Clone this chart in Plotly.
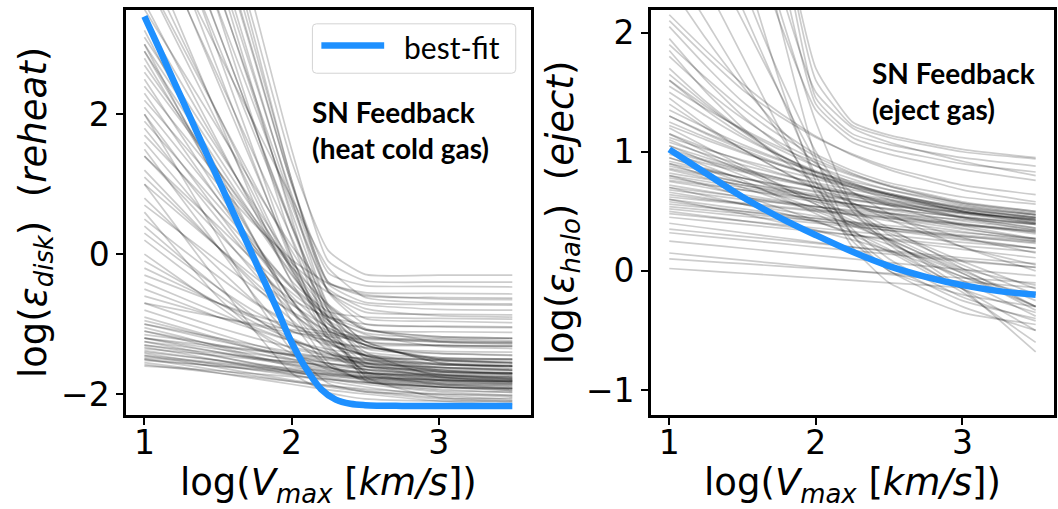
import plotly.graph_objects as go

# Sample nodes in log(Vmax) shared by every posterior curve
vmax_nodes = [1.0, 1.25, 1.5, 1.75, 2.0, 2.25, 2.5, 3.0, 3.5]

# Posterior draws of log(eps_disk) (reheating efficiency)
disk_samples = [
    [8.9, 7.0, 5.1, 3.23, 1.33, 0.05, -0.29, -0.30, -0.30],
    [8.0, 6.26, 4.51, 2.76, 1.01, -0.27, -0.45, -0.46, -0.47],
    [7.36, 5.74, 4.11, 2.49, 0.86, -0.43, -0.69, -0.72, -0.73],
    [6.76, 5.26, 3.76, 2.26, 0.76, -0.53, -0.92, -0.96, -0.98],
    [6.71, 5.09, 3.46, 1.84, 0.21, -1.0, -1.19, -1.22, -1.24],
    [5.94, 4.56, 3.19, 1.81, 0.44, -0.81, -1.35, -1.42, -1.44],
    [5.4, 4.0, 2.64, 1.26, -0.11, -1.24, -1.55, -1.62, -1.65],
    [4.96, 3.71, 2.46, 1.21, -0.04, -1.17, -1.68, -1.8, -1.82],
    [4.46, 3.21, 1.96, 0.71, -0.38, -0.82, -0.9, -0.92, -0.93],
    [3.96, 2.91, 1.86, 0.81, -0.24, -1.08, -1.45, -1.52, -1.55],
    [9.06, 7.06, 5.06, 3.06, 1.06, -0.40, -0.55, -0.56, -0.57],
    [7.8, 6.05, 4.3, 2.55, 0.8, -0.72, -1.08, -1.11, -1.12],
    [8.56, 6.69, 4.81, 2.94, 1.06, -0.53, -0.83, -0.86, -0.87],
    [5.78, 4.33, 2.88, 1.43, -0.02, -1.08, -1.29, -1.31, -1.32],
    [7.52, 5.77, 4.02, 2.27, 0.52, -1.1, -1.68, -1.72, -1.74],
    [4.84, 3.69, 2.54, 1.39, 0.24, -0.91, -1.75, -2.05, -2.06],
    [8.2, 6.4, 4.6, 2.8, 1.0, -0.40, -0.6, -0.62, -0.63],
    [6.3, 4.9, 3.5, 2.1, 0.7, -0.55, -1.0, -1.03, -1.04],
    [7.0, 5.4, 3.8, 2.2, 0.6, -0.75, -1.25, -1.3, -1.31],
    [5.6, 4.3, 3.0, 1.7, 0.4, -0.8, -1.5, -1.58, -1.6],
    [6.0, 4.6, 3.2, 1.8, 0.4, -0.95, -1.8, -1.95, -1.97],
    [5.0, 3.95, 2.9, 1.85, 0.8, -0.2, -0.62, -0.7, -0.71],
    [9.5, 7.5, 5.5, 3.5, 1.5, -0.1, -0.38, -0.4, -0.4],
    [4.2, 3.1, 2.0, 0.9, -0.2, -1.1, -1.55, -1.68, -1.7],
    [3.6, 2.6, 1.6, 0.6, -0.4, -1.2, -1.6, -1.75, -1.78],
    [4.0, 3.0, 2.0, 1.0, 0.05, -0.75, -1.08, -1.18, -1.2],
    [3.5, 2.65, 1.8, 0.95, 0.12, -0.5, -0.78, -0.88, -0.9],
    [3.2, 2.2, 1.2, 0.2, -0.8, -1.55, -1.82, -1.9, -1.92],
    [2.8, 1.93, 1.05, 0.18, -0.66, -1.33, -1.6, -1.7, -1.72],
    [2.3, 1.55, 0.8, 0.05, -0.6, -1.06, -1.25, -1.3, -1.32],
    [2.0, 1.13, 0.25, -0.63, -1.38, -1.85, -1.97, -2.0, -2.02],
    [1.6, 0.98, 0.35, -0.28, -0.82, -1.26, -1.45, -1.58, -1.6],
    [1.2, 0.65, 0.1, -0.45, -0.94, -1.36, -1.65, -1.78, -1.8],
    [0.8, 0.3, -0.2, -0.68, -0.99, -1.25, -1.34, -1.39, -1.4],
    [0.4, -0.05, -0.48, -0.9, -1.25, -1.48, -1.6, -1.68, -1.7],
    [0.0, -0.37, -0.74, -1.1, -1.42, -1.65, -1.78, -1.87, -1.9],
    [2.6, 1.9, 1.2, 0.5, -0.13, -0.55, -0.72, -0.79, -0.8],
    [1.9, 1.3, 0.7, 0.1, -0.45, -0.88, -1.08, -1.18, -1.2],
    [3.0, 2.2, 1.4, 0.6, -0.18, -0.85, -1.3, -1.48, -1.5],
    [1.0, 0.3, -0.4, -1.1, -1.7, -1.98, -2.07, -2.1, -2.1],
    [0.6, -0.02, -0.62, -1.08, -1.35, -1.45, -1.49, -1.5, -1.5],
    [3.35, 2.45, 1.55, 0.65, -0.22, -0.9, -1.13, -1.2, -1.21],
    [2.5, 1.7, 0.9, 0.1, -0.65, -1.3, -1.72, -1.86, -1.88],
    [1.4, 0.85, 0.3, -0.22, -0.65, -0.9, -1.0, -1.04, -1.05],
    [2.2, 1.6, 1.0, 0.42, -0.08, -0.42, -0.58, -0.64, -0.65],
    [2.9, 2.1, 1.3, 0.5, -0.28, -0.95, -1.45, -1.68, -1.7],
    [2.4, 1.75, 1.1, 0.45, -0.18, -0.72, -1.06, -1.25, -1.28],
    [1.8, 1.15, 0.5, -0.13, -0.7, -1.15, -1.48, -1.72, -1.76],
    [1.4, 0.9, 0.4, -0.1, -0.55, -0.95, -1.25, -1.55, -1.62],
    [1.0, 0.55, 0.1, -0.33, -0.72, -1.05, -1.3, -1.52, -1.56],
    [0.7, 0.3, -0.1, -0.48, -0.82, -1.1, -1.3, -1.5, -1.55],
    [3.1, 2.3, 1.5, 0.7, -0.1, -0.8, -1.25, -1.55, -1.6],
    [2.7, 1.95, 1.2, 0.45, -0.3, -0.95, -1.4, -1.75, -1.8],
    [2.1, 1.45, 0.8, 0.15, -0.48, -1.0, -1.3, -1.5, -1.52],
    [1.7, 1.15, 0.6, 0.05, -0.48, -0.9, -1.15, -1.32, -1.35],
    [1.1, 0.6, 0.1, -0.4, -0.85, -1.2, -1.45, -1.65, -1.7],
    [0.5, 0.08, -0.32, -0.7, -1.02, -1.28, -1.45, -1.62, -1.66],
    [1.5, 0.8, 0.1, -0.6, -1.2, -1.6, -1.8, -1.9, -1.92],
    [2.9, 2.0, 1.1, 0.2, -0.65, -1.2, -1.4, -1.48, -1.5],
    [3.0, 2.0, 1.0, 0.0, -0.95, -1.6, -1.75, -1.8, -1.82],
    [2.0, 1.3, 0.6, -0.1, -0.8, -1.4, -1.7, -1.84, -1.86],
    [0.2, -0.2, -0.58, -0.92, -1.2, -1.42, -1.58, -1.76, -1.82],
    [-0.1, -0.4, -0.7, -0.98, -1.22, -1.42, -1.56, -1.72, -1.78],
    [0.3, -0.1, -0.48, -0.82, -1.1, -1.3, -1.43, -1.57, -1.6],
    [-0.4, -0.62, -0.84, -1.05, -1.24, -1.4, -1.52, -1.66, -1.7],
    [-0.3, -0.5, -0.7, -0.88, -1.02, -1.12, -1.18, -1.24, -1.26],
    [-0.5, -0.7, -0.9, -1.08, -1.24, -1.36, -1.44, -1.52, -1.55],
    [-0.7, -0.88, -1.05, -1.2, -1.33, -1.43, -1.5, -1.58, -1.6],
    [-0.9, -1.05, -1.2, -1.34, -1.46, -1.56, -1.64, -1.73, -1.76],
    [-1.0, -1.12, -1.24, -1.35, -1.45, -1.52, -1.57, -1.62, -1.64],
    [-1.1, -1.22, -1.35, -1.48, -1.6, -1.7, -1.78, -1.88, -1.92],
    [-1.2, -1.3, -1.4, -1.5, -1.58, -1.65, -1.7, -1.76, -1.78],
    [-1.3, -1.38, -1.47, -1.56, -1.65, -1.73, -1.8, -1.9, -1.95],
    [-1.4, -1.46, -1.52, -1.58, -1.63, -1.67, -1.7, -1.74, -1.75],
    [-1.45, -1.53, -1.62, -1.71, -1.8, -1.88, -1.95, -2.05, -2.1],
    [-1.5, -1.55, -1.6, -1.65, -1.7, -1.74, -1.78, -1.83, -1.85],
    [-1.55, -1.62, -1.7, -1.78, -1.86, -1.94, -2.0, -2.1, -2.15],
    [-1.35, -1.4, -1.45, -1.5, -1.54, -1.58, -1.61, -1.65, -1.67],
    [-1.25, -1.35, -1.46, -1.57, -1.68, -1.78, -1.86, -1.97, -2.02],
    [-0.6, -0.75, -0.9, -1.02, -1.12, -1.18, -1.22, -1.25, -1.26],
    [-0.2, -0.45, -0.7, -0.92, -1.1, -1.24, -1.33, -1.42, -1.45],
    [-1.15, -1.22, -1.3, -1.37, -1.43, -1.48, -1.52, -1.56, -1.58],
    [-1.42, -1.5, -1.58, -1.66, -1.73, -1.79, -1.84, -1.9, -1.93],
    [-0.8, -0.97, -1.14, -1.3, -1.44, -1.56, -1.65, -1.76, -1.8],
    [-1.05, -1.18, -1.32, -1.46, -1.58, -1.68, -1.76, -1.85, -1.88],
    [-1.6, -1.63, -1.67, -1.71, -1.75, -1.79, -1.83, -1.9, -1.95],
    [-1.5, -1.58, -1.66, -1.74, -1.82, -1.9, -1.97, -2.07, -2.12],
    [-1.3, -1.36, -1.42, -1.48, -1.54, -1.6, -1.65, -1.73, -1.78],
    [-1.0, -1.1, -1.2, -1.3, -1.4, -1.48, -1.55, -1.66, -1.72],
    [-0.7, -0.8, -0.9, -1.0, -1.08, -1.15, -1.2, -1.26, -1.28],
    [-1.2, -1.28, -1.36, -1.43, -1.5, -1.56, -1.61, -1.68, -1.72],
    [-1.48, -1.52, -1.57, -1.62, -1.67, -1.72, -1.76, -1.82, -1.86],
    [-1.38, -1.45, -1.52, -1.6, -1.68, -1.76, -1.83, -1.93, -1.98],
    [-1.25, -1.32, -1.4, -1.48, -1.56, -1.63, -1.69, -1.78, -1.82],
    [-1.1, -1.2, -1.3, -1.41, -1.52, -1.62, -1.7, -1.8, -1.84],
    [-0.95, -1.08, -1.22, -1.36, -1.5, -1.62, -1.72, -1.86, -1.92],
    [-1.52, -1.56, -1.6, -1.64, -1.68, -1.72, -1.76, -1.8, -1.82],
    [-1.45, -1.5, -1.55, -1.6, -1.65, -1.7, -1.74, -1.8, -1.83],
    [-1.58, -1.64, -1.7, -1.76, -1.82, -1.88, -1.93, -2.0, -2.04],
    [-1.33, -1.42, -1.52, -1.62, -1.72, -1.82, -1.9, -2.02, -2.08],
    [-1.2, -1.26, -1.32, -1.38, -1.44, -1.5, -1.55, -1.62, -1.66],
]

# Posterior draws of log(eps_halo) (ejection efficiency)
halo_samples = [
    [9.0, 7.0, 5.0, 3.0, 1.6, 1.22, 1.12, 1.0, 0.94],
    [8.0, 6.3, 4.6, 2.9, 1.45, 1.15, 1.06, 0.95, 0.88],
    [7.0, 5.6, 4.2, 2.6, 1.4, 1.12, 1.02, 0.9, 0.83],
    [6.0, 4.8, 3.6, 2.4, 1.5, 1.2, 1.08, 0.92, 0.8],
    [5.0, 4.0, 3.0, 2.1, 1.35, 1.08, 0.98, 0.85, 0.76],
    [7.5, 6.0, 4.5, 3.0, 1.7, 1.25, 1.14, 1.02, 0.95],
    [6.0, 4.7, 3.4, 2.1, 0.95, 0.3, 0.0, -0.2, -0.3],
    [4.5, 3.6, 2.6, 1.6, 0.75, 0.2, -0.1, -0.35, -0.45],
    [3.6, 2.9, 2.2, 1.5, 0.8, 0.3, 0.05, -0.25, -0.4],
    [3.0, 2.4, 1.8, 1.2, 0.65, 0.25, 0.0, -0.3, -0.5],
    [2.6, 2.1, 1.6, 1.15, 0.7, 0.35, 0.1, -0.22, -0.42],
    [5.5, 4.4, 3.3, 2.2, 1.25, 0.55, 0.25, -0.05, -0.2],
    [4.0, 3.2, 2.4, 1.65, 1.0, 0.55, 0.3, 0.02, -0.12],
    [3.3, 2.7, 2.1, 1.5, 0.92, 0.5, 0.22, -0.15, -0.35],
    [2.1, 1.8, 1.52, 1.3, 1.12, 0.98, 0.87, 0.72, 0.64],
    [1.95, 1.6, 1.3, 1.06, 0.88, 0.74, 0.64, 0.5, 0.42],
    [1.8, 1.52, 1.28, 1.08, 0.93, 0.81, 0.72, 0.58, 0.5],
    [1.7, 1.42, 1.18, 0.98, 0.82, 0.7, 0.6, 0.45, 0.36],
    [1.6, 1.38, 1.18, 1.02, 0.88, 0.77, 0.68, 0.55, 0.47],
    [1.5, 1.3, 1.12, 0.97, 0.84, 0.73, 0.64, 0.5, 0.41],
    [1.45, 1.22, 1.02, 0.85, 0.7, 0.57, 0.46, 0.28, 0.15],
    [1.35, 1.2, 1.06, 0.94, 0.83, 0.73, 0.65, 0.52, 0.44],
    [1.85, 1.5, 1.2, 0.95, 0.74, 0.57, 0.43, 0.2, 0.05],
    [2.05, 1.72, 1.42, 1.18, 0.98, 0.84, 0.74, 0.62, 0.56],
    [1.9, 1.62, 1.36, 1.14, 0.96, 0.82, 0.71, 0.56, 0.48],
    [2.15, 1.85, 1.57, 1.33, 1.13, 0.97, 0.85, 0.68, 0.58],
    [1.65, 1.4, 1.17, 0.97, 0.8, 0.66, 0.55, 0.38, 0.27],
    [1.55, 1.36, 1.19, 1.04, 0.91, 0.8, 0.71, 0.57, 0.49],
    [2.4, 1.95, 1.55, 1.2, 0.9, 0.66, 0.48, 0.2, 0.0],
    [1.3, 1.15, 1.02, 0.9, 0.8, 0.71, 0.64, 0.52, 0.45],
    [1.6, 1.35, 1.14, 0.97, 0.83, 0.72, 0.63, 0.5, 0.42],
    [1.3, 1.16, 1.04, 0.93, 0.83, 0.75, 0.68, 0.57, 0.5],
    [1.22, 1.1, 0.99, 0.89, 0.8, 0.72, 0.65, 0.53, 0.45],
    [1.15, 1.03, 0.92, 0.82, 0.73, 0.65, 0.57, 0.44, 0.34],
    [1.08, 0.98, 0.89, 0.81, 0.74, 0.68, 0.62, 0.53, 0.47],
    [1.0, 0.92, 0.84, 0.77, 0.7, 0.64, 0.58, 0.48, 0.4],
    [0.95, 0.86, 0.78, 0.7, 0.62, 0.55, 0.48, 0.36, 0.26],
    [0.9, 0.84, 0.78, 0.72, 0.67, 0.62, 0.57, 0.49, 0.43],
    [0.85, 0.78, 0.72, 0.66, 0.6, 0.54, 0.49, 0.4, 0.32],
    [0.8, 0.75, 0.7, 0.65, 0.6, 0.56, 0.52, 0.45, 0.39],
    [0.75, 0.7, 0.64, 0.59, 0.54, 0.49, 0.44, 0.35, 0.27],
    [0.7, 0.66, 0.62, 0.58, 0.54, 0.5, 0.46, 0.39, 0.33],
    [0.66, 0.61, 0.56, 0.51, 0.46, 0.41, 0.36, 0.27, 0.19],
    [0.62, 0.59, 0.56, 0.53, 0.5, 0.47, 0.44, 0.38, 0.33],
    [0.58, 0.54, 0.5, 0.46, 0.42, 0.38, 0.34, 0.26, 0.19],
    [0.54, 0.51, 0.48, 0.45, 0.42, 0.39, 0.36, 0.3, 0.25],
    [0.5, 0.46, 0.42, 0.38, 0.34, 0.3, 0.26, 0.18, 0.11],
    [0.45, 0.42, 0.39, 0.36, 0.33, 0.3, 0.27, 0.21, 0.16],
    [0.4, 0.36, 0.32, 0.28, 0.24, 0.2, 0.16, 0.09, 0.03],
    [0.32, 0.29, 0.26, 0.23, 0.2, 0.17, 0.14, 0.08, 0.03],
    [0.25, 0.22, 0.19, 0.16, 0.13, 0.1, 0.07, 0.01, -0.04],
    [0.15, 0.12, 0.09, 0.06, 0.03, 0.0, -0.03, -0.09, -0.14],
    [0.02, 0.0, -0.02, -0.04, -0.06, -0.08, -0.1, -0.14, -0.18],
    [1.25, 1.12, 1.0, 0.89, 0.79, 0.7, 0.62, 0.49, 0.4],
    [1.12, 1.02, 0.93, 0.85, 0.77, 0.7, 0.64, 0.54, 0.47],
    [1.05, 0.95, 0.86, 0.78, 0.7, 0.63, 0.56, 0.45, 0.36],
    [0.98, 0.9, 0.83, 0.76, 0.7, 0.64, 0.59, 0.5, 0.43],
    [0.88, 0.81, 0.74, 0.68, 0.62, 0.56, 0.51, 0.42, 0.35],
    [0.82, 0.77, 0.72, 0.67, 0.63, 0.59, 0.55, 0.48, 0.43],
    [0.72, 0.67, 0.62, 0.57, 0.52, 0.47, 0.42, 0.33, 0.25],
    [0.68, 0.64, 0.6, 0.57, 0.54, 0.51, 0.48, 0.43, 0.39],
    [0.6, 0.56, 0.52, 0.48, 0.44, 0.4, 0.36, 0.29, 0.23],
    [0.52, 0.49, 0.46, 0.43, 0.4, 0.37, 0.34, 0.29, 0.24],
    [0.35, 0.32, 0.29, 0.26, 0.23, 0.2, 0.17, 0.11, 0.06],
    [0.1, 0.08, 0.06, 0.04, 0.02, 0.0, -0.02, -0.06, -0.1],
    [0.76, 0.72, 0.68, 0.64, 0.6, 0.56, 0.52, 0.45, 0.4],
    [0.64, 0.6, 0.57, 0.54, 0.51, 0.48, 0.45, 0.39, 0.34],
    [0.86, 0.8, 0.74, 0.69, 0.64, 0.6, 0.56, 0.49, 0.44],
    [0.56, 0.53, 0.5, 0.47, 0.44, 0.41, 0.38, 0.32, 0.27],
    [0.92, 0.85, 0.78, 0.72, 0.66, 0.6, 0.55, 0.46, 0.39],
    [0.48, 0.45, 0.42, 0.39, 0.36, 0.33, 0.3, 0.24, 0.19],
    [1.02, 0.93, 0.85, 0.78, 0.71, 0.65, 0.6, 0.51, 0.45],
    [0.78, 0.73, 0.68, 0.63, 0.58, 0.53, 0.48, 0.39, 0.31],
    [1.1, 0.97, 0.84, 0.71, 0.58, 0.45, 0.32, 0.05, -0.2],
    [0.9, 0.8, 0.7, 0.6, 0.5, 0.38, 0.26, 0.0, -0.25],
    [1.2, 1.04, 0.88, 0.72, 0.56, 0.4, 0.24, -0.08, -0.38],
    [1.0, 0.88, 0.76, 0.62, 0.48, 0.33, 0.18, -0.15, -0.5],
    [0.8, 0.72, 0.63, 0.53, 0.42, 0.3, 0.16, -0.18, -0.6],
    [1.05, 0.92, 0.8, 0.68, 0.56, 0.42, 0.26, -0.15, -0.68],
    [0.7, 0.63, 0.56, 0.49, 0.41, 0.32, 0.22, -0.02, -0.3],
    [1.4, 1.2, 1.02, 0.85, 0.68, 0.52, 0.36, 0.02, -0.3],
    [0.95, 0.85, 0.74, 0.63, 0.52, 0.4, 0.27, -0.02, -0.33],
    [1.15, 1.0, 0.86, 0.73, 0.6, 0.47, 0.34, 0.08, -0.15],
    [0.6, 0.54, 0.48, 0.41, 0.34, 0.26, 0.17, -0.05, -0.3],
]

# Best-fit relations
disk_fit_x = [1.0, 1.1, 1.2, 1.3, 1.4, 1.5, 1.6, 1.7, 1.8, 1.9, 2.0, 2.1, 2.2, 2.3, 2.4, 2.5, 2.75, 3.0, 3.25, 3.5]
disk_fit_y = [3.40, 2.94, 2.47, 2.01, 1.54, 1.08, 0.61, 0.15, -0.32, -0.78, -1.26, -1.64, -1.93, -2.08, -2.14, -2.16, -2.17, -2.17, -2.17, -2.17]
halo_fit_x = [1.0, 1.25, 1.5, 1.75, 2.0, 2.25, 2.5, 2.75, 3.0, 3.25, 3.5]
halo_fit_y = [1.02, 0.82, 0.62, 0.45, 0.30, 0.16, 0.04, -0.05, -0.12, -0.17, -0.20]

x_ticks = [1, 2, 3]
disk_y_ticks = [-2, 0, 2]
halo_y_ticks = [-1, 0, 1, 2]

SAMPLE_LINE = dict(color="rgba(0,0,0,0.2)", width=1.7, shape="spline", smoothing=0.5)
FIT_COLOR = "#1e90ff"

fig = go.Figure()

for ys in disk_samples:
    fig.add_trace(go.Scatter(x=vmax_nodes, y=ys, mode="lines", line=SAMPLE_LINE,
                             hoverinfo="skip", showlegend=False, xaxis="x", yaxis="y"))
for ys in halo_samples:
    fig.add_trace(go.Scatter(x=vmax_nodes, y=ys, mode="lines", line=SAMPLE_LINE,
                             hoverinfo="skip", showlegend=False, xaxis="x2", yaxis="y2"))

fig.add_trace(go.Scatter(x=disk_fit_x, y=disk_fit_y, mode="lines", name="best-fit",
                         line=dict(color=FIT_COLOR, width=6.5, shape="spline"),
                         showlegend=False, xaxis="x", yaxis="y"))
fig.add_trace(go.Scatter(x=halo_fit_x, y=halo_fit_y, mode="lines", name="best-fit",
                         line=dict(color=FIT_COLOR, width=6.5, shape="spline"),
                         showlegend=False, xaxis="x2", yaxis="y2"))

tick_font = dict(family="DejaVu Sans", size=33, color="black")
title_font = dict(family="DejaVu Sans", size=37, color="black")
frame = dict(showline=True, linecolor="black", linewidth=2.5, mirror=True,
             ticks="outside", ticklen=7, tickwidth=2, tickcolor="black",
             showgrid=False, zeroline=False, tickfont=tick_font)

x_title = "log(<i>V</i><sub><i>max</i></sub> [<i>km/s</i>])"

# Plot-area geometry (px) used to place the legend box in paper coordinates
ML, MR, MT, MB, W, H = 126, 1, 10, 89, 1058, 509
PW, PH = W - ML - MR, H - MT - MB


def px_x(p):
    return (p - ML) / PW


def px_y(p):
    return (H - MB - p) / PH


lg_x0, lg_x1, lg_y0, lg_y1, r = px_x(313), px_x(517), px_y(74), px_y(24), 4
rx, ry = r / PW, r / PH
legend_box = (
    f"M{lg_x0 + rx},{lg_y0} L{lg_x1 - rx},{lg_y0} Q{lg_x1},{lg_y0} {lg_x1},{lg_y0 + ry} "
    f"L{lg_x1},{lg_y1 - ry} Q{lg_x1},{lg_y1} {lg_x1 - rx},{lg_y1} "
    f"L{lg_x0 + rx},{lg_y1} Q{lg_x0},{lg_y1} {lg_x0},{lg_y1 - ry} "
    f"L{lg_x0},{lg_y0 + ry} Q{lg_x0},{lg_y0} {lg_x0 + rx},{lg_y0} Z"
)

note_font = dict(family="Lato", size=28, color="black")

fig.update_layout(
    width=W, height=H,
    margin=dict(l=ML, r=MR, t=MT, b=MB),
    plot_bgcolor="white", paper_bgcolor="white",
    showlegend=False,
    xaxis=dict(domain=[0, 0.4361], range=[0.875, 3.625], tickvals=x_ticks,
               ticklabelstandoff=-10,
               title=dict(text=x_title, font=title_font, standoff=20), **frame),
    yaxis=dict(domain=[0, 1], range=[-2.30, 3.49], tickvals=disk_y_ticks,
               title=dict(text="log(<i>ε</i><sub><i>disk</i></sub>)\u00a0 (<i>reheat</i>)",
                          font=title_font, standoff=4), **frame),
    xaxis2=dict(domain=[0.5657, 1.0], range=[0.875, 3.625], tickvals=x_ticks, anchor="y2",
                ticklabelstandoff=-10,
                title=dict(text=x_title, font=title_font, standoff=20), **frame),
    yaxis2=dict(domain=[0, 1], range=[-1.21, 2.19], tickvals=halo_y_ticks, anchor="x2",
                title=dict(text="log(<i>ε</i><sub><i>halo</i></sub>)\u00a0 (<i>eject</i>)",
                           font=title_font, standoff=2), **frame),
    shapes=[
        dict(type="path", path=legend_box, xref="paper", yref="paper",
             line=dict(color="#d3d3d3", width=1), fillcolor="rgba(255,255,255,0.85)"),
        dict(type="line", xref="paper", yref="paper", x0=px_x(322), x1=px_x(385),
             y0=px_y(46), y1=px_y(46), line=dict(color=FIT_COLOR, width=6.5)),
    ],
    annotations=[
        dict(text="best-fit", xref="paper", yref="paper", x=px_x(403), y=px_y(47),
             xanchor="left", yanchor="middle", showarrow=False,
             font=dict(family="Lato", size=30, color="black")),
        dict(text="<b>SN Feedback</b><br><b>(heat cold gas)</b>", xref="x domain", yref="y domain",
             x=0.455, y=0.7037, xanchor="left", yanchor="middle", align="left",
             showarrow=False, font=note_font),
        dict(text="<b>SN Feedback</b><br><b>(eject gas)</b>", xref="x2 domain", yref="y2 domain",
             x=0.543, y=0.801, xanchor="left", yanchor="middle", align="left",
             showarrow=False, font=note_font),
    ],
)

fig.write_html("out.html")
